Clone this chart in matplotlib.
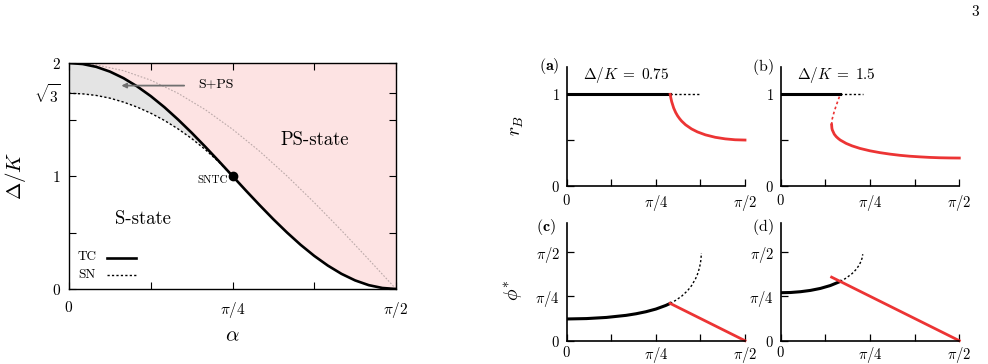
import matplotlib
matplotlib.use("Agg")
import matplotlib.pyplot as plt
import numpy as np

plt.rcParams['mathtext.fontset'] = 'cm'
plt.rcParams['font.family'] = ['cmr10', 'DejaVu Serif']
plt.rcParams['axes.formatter.use_mathtext'] = True

# ---------------- data (alpha in degrees) ----------------
# Phase diagram
alpha_tc = [0, 3.75, 7.5, 11.25, 15, 18.75, 22.5, 26.25, 30, 33.75, 37.5, 41.25, 45,
            48.75, 52.5, 56.25, 60, 63.75, 67.5, 71.25, 75, 78.75, 82.5, 86.25, 90]
delta_tc = [2.0, 1.991, 1.966, 1.924, 1.866, 1.793, 1.707, 1.609, 1.5, 1.383, 1.259, 1.131, 1.0,
            0.869, 0.741, 0.617, 0.5, 0.391, 0.293, 0.207, 0.134, 0.076, 0.034, 0.009, 0.0]
alpha_sn = [0, 3.75, 7.5, 11.25, 15, 18.75, 22.5, 26.25, 30, 33.75, 37.5, 41.25, 45]
delta_sn = [1.732, 1.727, 1.713, 1.689, 1.654, 1.610, 1.556, 1.492, 1.417, 1.332, 1.234, 1.124, 1.0]
alpha_gray = [0, 7.5, 15, 22.5, 30, 37.5, 45, 52.5, 60, 67.5, 75, 82.5, 90]
delta_gray = [2.0, 1.983, 1.932, 1.848, 1.732, 1.587, 1.414, 1.218, 1.0, 0.765, 0.518, 0.261, 0.0]
sntc = (45, 1.0)

# Panel (a): Delta/K = 0.75
a_black = [0, 52.24]
a_black_r = [1, 1]
a_dot = [52.24, 67.98]
a_dot_r = [1, 1]
a_red = [52.24, 52.3, 52.5, 53, 54, 55, 56, 57, 58, 60, 63, 66, 70, 75, 80, 85, 90]
a_red_r = [1.0, 0.994, 0.968, 0.920, 0.851, 0.802, 0.764, 0.734, 0.708, 0.667, 0.622,
           0.589, 0.557, 0.530, 0.513, 0.503, 0.500]

# Panel (b): Delta/K = 1.5
b_black = [0, 30]
b_black_r = [1, 1]
b_dot = [30, 41.41]
b_dot_r = [1, 1]
b_red = [25.66, 25.8, 26, 27, 28, 29, 30, 33, 36, 40, 45, 50, 55, 60, 65, 70, 75, 80, 85, 90]
b_red_r = [0.667, 0.630, 0.611, 0.564, 0.537, 0.517, 0.500, 0.463, 0.436, 0.408, 0.382,
           0.362, 0.346, 0.333, 0.323, 0.316, 0.310, 0.306, 0.304, 0.303]
b_red_un = [25.66, 25.8, 26, 27, 28, 29, 30]
b_red_un_r = [0.667, 0.708, 0.734, 0.815, 0.879, 0.940, 1.0]

# Panel (c): phi*, Delta/K = 0.75
c_black = [0, 10, 20, 30, 35, 40, 45, 50, 52.24]
c_black_p = [0.384, 0.391, 0.411, 0.448, 0.476, 0.512, 0.559, 0.623, 0.659]
c_dot = [52.24, 55, 58, 61, 63, 65, 66, 67, 67.5, 67.8, 67.97]
c_dot_p = [0.659, 0.713, 0.786, 0.884, 0.972, 1.092, 1.173, 1.286, 1.370, 1.448, 1.548]
c_red = [52.24, 90]
c_red_p = [0.659, 0.0]

# Panel (d): phi*, Delta/K = 1.5
d_black = [0, 5, 10, 15, 20, 25, 30]
d_black_p = [0.848, 0.852, 0.866, 0.889, 0.924, 0.975, 1.047]
d_dot = [30, 33, 36, 38, 39.5, 40.5, 41, 41.35]
d_dot_p = [1.047, 1.107, 1.187, 1.259, 1.334, 1.405, 1.459, 1.528]
d_red = [25.66, 90]
d_red_p = [1.123, 0.0]

RED = '#ec3434'
PINK = '#fde3e3'
GREY = '#e4e4e4'
DOT = (0, (1.6, 1.6))

W, H = 988, 364
fig = plt.figure(figsize=(W / 100, H / 100), dpi=100)

def box(l, r, b, t):
    return [l / W, 1 - b / H, (r - l) / W, (b - t) / H]

# ---------------- left phase diagram ----------------
ax = fig.add_axes(box(69, 396, 289, 63))
ax.set_xlim(0, 90)
ax.set_ylim(0, 2)
ax.fill_between(alpha_tc, delta_tc, 2, color=PINK, lw=0, zorder=0)
ax.fill_between(alpha_sn, delta_sn, delta_tc[:len(alpha_sn)], color=GREY, lw=0, zorder=0)
ax.plot(alpha_gray, delta_gray, color='#bba9a9', lw=0.8, ls=(0, (1.5, 1.5)), zorder=1)
ax.plot(alpha_sn, delta_sn, color='black', lw=1.0, ls=DOT, zorder=2)
ax.plot(alpha_tc, delta_tc, color='black', lw=1.9, zorder=3)
ax.plot([sntc[0]], [sntc[1]], 'o', color='black', ms=6, zorder=4)

ax.set_xticks([0, 22.5, 45, 67.5, 90])
ax.set_xticklabels(['$0$', '', r'$\pi/4$', '', r'$\pi/2$'])
ax.set_yticks([0, 0.5, 1, 1.5, np.sqrt(3), 2])
ax.set_yticklabels(['$0$', '', '$1$', '', r'$\sqrt{3}$', '$2$'])
ax.tick_params(direction='in', length=5, width=0.8, top=True, right=True,
               labelsize=11, pad=6)
ax.tick_params(axis='x', pad=8)
for s in ax.spines.values():
    s.set_linewidth(1.0)
ax.set_ylabel(r'$\Delta/K$', fontsize=15)
ax.yaxis.set_label_coords(-0.125, 0.5)
ax.set_xlabel(r'$\alpha$', fontsize=15)
ax.xaxis.set_label_coords(0.5, -0.17)

ax.text(67.7, 1.32, 'PS-state', fontsize=13.5, ha='center', va='center')
ax.text(20.4, 0.62, 'S-state', fontsize=13.5, ha='center', va='center')
ax.text(43.6, 0.96, 'SNTC', fontsize=8, ha='right', va='center')
ax.text(35.5, 1.81, 'S+PS', fontsize=10, ha='left', va='center')
ax.annotate('', xy=(14.4, 1.80), xytext=(31.7, 1.80),
            arrowprops=dict(arrowstyle='-|>', color='#707070', lw=1.3,
                            mutation_scale=7, shrinkA=0, shrinkB=0))
ax.text(4.95, 0.28, 'TC', fontsize=9.5, ha='center', va='center')
ax.plot([10.46, 18.44], [0.276, 0.276], color='black', lw=1.9)
ax.text(4.95, 0.12, 'SN', fontsize=9.5, ha='center', va='center')
ax.plot([10.46, 18.44], [0.12, 0.12], color='black', lw=1.0, ls=DOT)

# ---------------- right panels ----------------
def small_axes(l, r, b, t, ymax, xpad):
    a = fig.add_axes(box(l, r, b, t))
    a.set_xlim(0, 90)
    a.set_ylim(0, ymax)
    a.spines['top'].set_visible(False)
    a.spines['right'].set_visible(False)
    a.spines['left'].set_linewidth(1.2)
    a.spines['bottom'].set_linewidth(1.2)
    a.set_xticks([0, 22.5, 45, 67.5, 90])
    a.set_xticklabels(['$0$', '', r'$\pi/4$', '', r'$\pi/2$'])
    a.tick_params(direction='in', length=5, width=0.9, labelsize=10.5, pad=5)
    a.tick_params(axis='x', pad=xpad)
    return a

axa = small_axes(566.7, 745, 185.7, 67, 1.3, 5)
axb = small_axes(780.7, 959.3, 185.7, 67, 1.3, 5)
axc = small_axes(566.7, 745, 340.7, 223.3, 2.075, 3)
axd = small_axes(780.7, 959.3, 340.7, 223.3, 2.075, 3)

for a in (axa, axb):
    a.set_yticks([0, 0.5, 1])
    a.set_yticklabels(['$0$', '', '$1$'])
for a in (axc, axd):
    a.set_yticks([0, np.pi / 4, np.pi / 2])
    a.set_yticklabels(['$0$', r'$\pi/4$', r'$\pi/2$'])

axa.plot(a_black, a_black_r, color='black', lw=2.2)
axa.plot(a_dot, a_dot_r, color='black', lw=1.0, ls=DOT)
axa.plot(a_red, a_red_r, color=RED, lw=2.0, clip_on=False)

axb.plot(b_black, b_black_r, color='black', lw=2.2)
axb.plot(b_dot, b_dot_r, color='black', lw=1.0, ls=DOT)
axb.plot(b_red, b_red_r, color=RED, lw=2.0, clip_on=False)
axb.plot(b_red_un, b_red_un_r, color=RED, lw=1.2, ls=DOT)

axc.plot(c_black, c_black_p, color='black', lw=2.2)
axc.plot(c_dot, c_dot_p, color='black', lw=1.0, ls=DOT)
axc.plot(c_red, c_red_p, color=RED, lw=2.0, clip_on=False)

axd.plot(d_black, d_black_p, color='black', lw=2.2)
axd.plot(d_dot, d_dot_p, color='black', lw=1.0, ls=DOT)
axd.plot(d_red, d_red_p, color=RED, lw=2.0, clip_on=False)

axa.set_ylabel(r'$r_B$', fontsize=14)
axa.yaxis.set_label_coords(-0.23, 0.51)
axc.set_ylabel(r'$\phi^{*}$', fontsize=14)
axc.yaxis.set_label_coords(-0.24, 0.43)

axa.text(0.09, 0.933, r'$\Delta/K \;=\; 0.75$', transform=axa.transAxes, fontsize=11,
         ha='left', va='center')
axb.text(0.09, 0.933, r'$\Delta/K \;=\; 1.5$', transform=axb.transAxes, fontsize=11,
         ha='left', va='center')
axa.text(-0.099, 1.01, r'$\mathbf{(a)}$', transform=axa.transAxes, fontsize=11.5,
         ha='center', va='center')
axb.text(-0.099, 1.0, r'$\mathrm{(b)}$', transform=axb.transAxes, fontsize=11.5,
         ha='center', va='center')
axc.text(-0.115, 0.97, r'$\mathbf{(c)}$', transform=axc.transAxes, fontsize=11.5,
         ha='center', va='center')
axd.text(-0.099, 0.965, r'$\mathrm{(d)}$', transform=axd.transAxes, fontsize=11.5,
         ha='center', va='center')

fig.text(975 / W, 1 - 12 / H, '$3$', fontsize=11, ha='center', va='center')

fig.savefig('out.png', dpi=100)
